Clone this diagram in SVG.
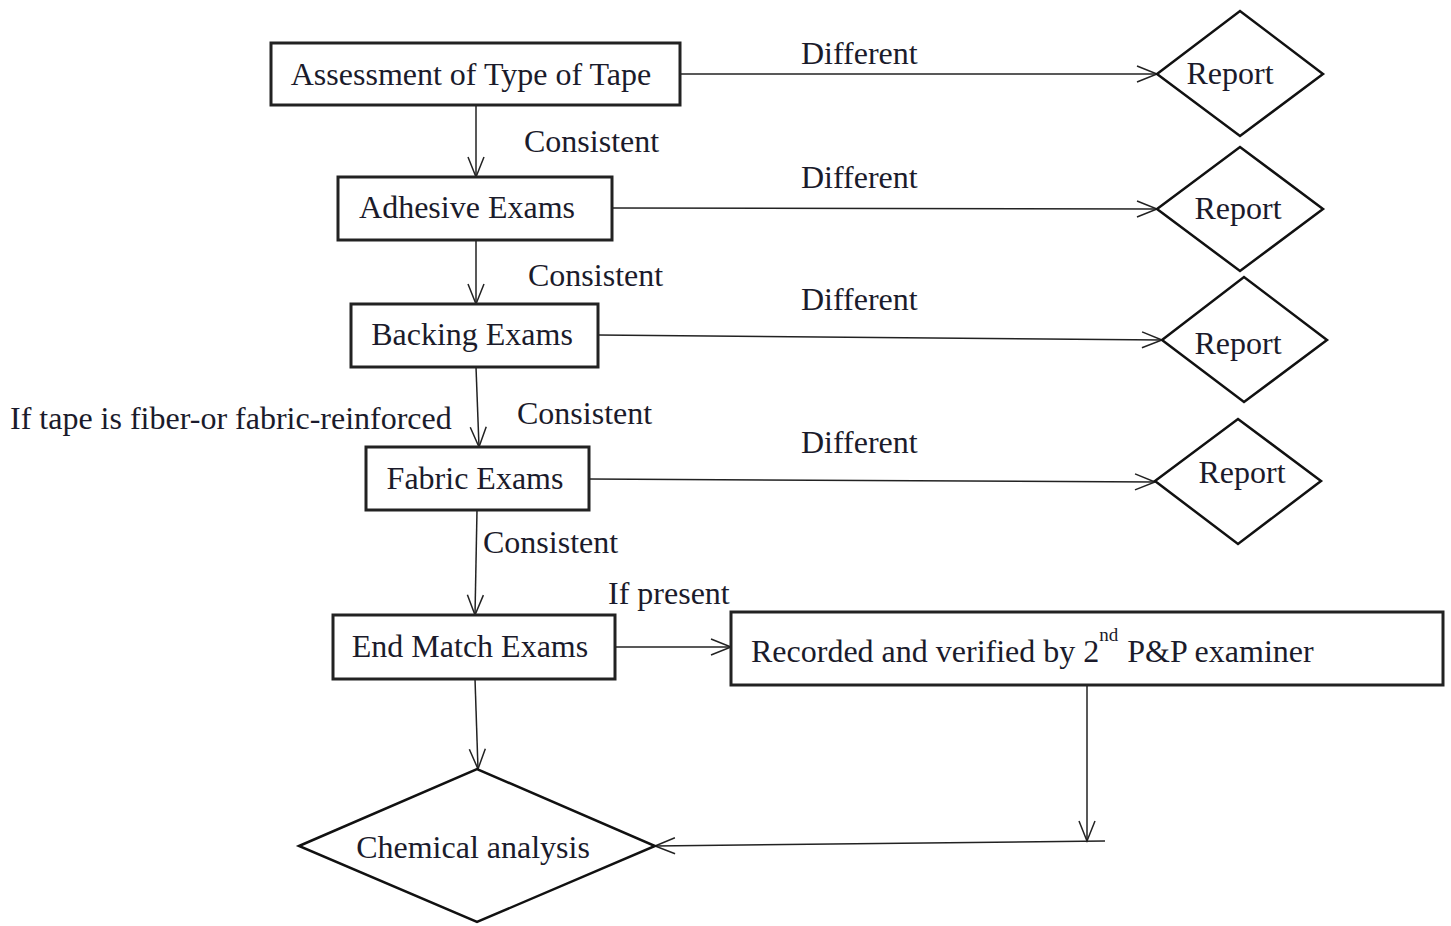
<svg xmlns="http://www.w3.org/2000/svg" width="1451" height="926" viewBox="0 0 1451 926">
<defs>
<style>
.box{fill:#fff;stroke:#222;stroke-width:3}
.dia{fill:#fff;stroke:#111;stroke-width:2.5}
.t{font-family:"Liberation Serif","Times New Roman",serif;font-size:32px;fill:#1b1b2b;text-anchor:middle}
.l{font-family:"Liberation Serif","Times New Roman",serif;font-size:32px;fill:#1b1b2b}
.c{fill:none;stroke:#222;stroke-width:1.5}
</style>
<marker id="ah" viewBox="0 0 24 20" refX="22" refY="10" markerWidth="24" markerHeight="20" markerUnits="userSpaceOnUse" orient="auto">
<polyline points="2,2 22,10 2,18" fill="none" stroke="#222" stroke-width="1.5"/>
</marker>
</defs>
<rect width="1451" height="926" fill="#fff"/>
<g id="connectors">
<line class="c" x1="680" y1="74" x2="1157" y2="74" marker-end="url(#ah)"/>
<line class="c" x1="476" y1="105" x2="476" y2="177" marker-end="url(#ah)"/>
<line class="c" x1="612" y1="208" x2="1157" y2="209" marker-end="url(#ah)"/>
<line class="c" x1="476" y1="240" x2="476" y2="304" marker-end="url(#ah)"/>
<line class="c" x1="598" y1="335" x2="1162" y2="340" marker-end="url(#ah)"/>
<line class="c" x1="476" y1="367" x2="479" y2="447" marker-end="url(#ah)"/>
<line class="c" x1="589" y1="479" x2="1155" y2="482" marker-end="url(#ah)"/>
<line class="c" x1="477" y1="510" x2="475" y2="615" marker-end="url(#ah)"/>
<line class="c" x1="615" y1="647" x2="731" y2="647" marker-end="url(#ah)"/>
<line class="c" x1="475" y1="679" x2="478" y2="769" marker-end="url(#ah)"/>
<line class="c" x1="1087" y1="685" x2="1087" y2="841" marker-end="url(#ah)"/>
<line class="c" x1="1105" y1="841" x2="655" y2="846" marker-end="url(#ah)"/>
<text class="l" x="801" y="64">Different</text>
<text class="l" x="524" y="152">Consistent</text>
<text class="l" x="801" y="188">Different</text>
<text class="l" x="528" y="286">Consistent</text>
<text class="l" x="801" y="310">Different</text>
<text class="l" x="517" y="424">Consistent</text>
<text class="l" x="10" y="429">If tape is fiber-or fabric-reinforced</text>
<text class="l" x="801" y="453">Different</text>
<text class="l" x="483" y="553">Consistent</text>
<text class="l" x="608" y="604">If present</text>
</g>
<g id="n1"><rect class="box" x="271" y="43" width="409" height="62"/><text class="t" x="471" y="85">Assessment of Type of Tape</text></g>
<g id="r1"><polygon class="dia" points="1157,74 1240,11 1323,74 1240,136"/><text class="t" x="1230" y="84">Report</text></g>
<g id="n2"><rect class="box" x="338" y="177" width="274" height="63"/><text class="t" x="467" y="218">Adhesive Exams</text></g>
<g id="r2"><polygon class="dia" points="1157,209 1240,147 1323,209 1240,271"/><text class="t" x="1238" y="219">Report</text></g>
<g id="n3"><rect class="box" x="351" y="304" width="247" height="63"/><text class="t" x="472" y="345">Backing Exams</text></g>
<g id="r3"><polygon class="dia" points="1162,340 1244,277 1327,340 1244,402"/><text class="t" x="1238" y="354">Report</text></g>
<g id="n4"><rect class="box" x="366" y="447" width="223" height="63"/><text class="t" x="475" y="489">Fabric Exams</text></g>
<g id="r4"><polygon class="dia" points="1155,481 1238,419 1321,481 1238,544"/><text class="t" x="1242" y="483">Report</text></g>
<g id="n5"><rect class="box" x="333" y="615" width="282" height="64"/><text class="t" x="470" y="657">End Match Exams</text></g>
<g id="n6"><rect class="box" x="731" y="612" width="712" height="73"/><text class="l" x="751" y="662">Recorded and verified by 2<tspan font-size="19" dy="-21">nd</tspan><tspan dy="21" dx="9">P&amp;P examiner</tspan></text></g>
<g id="n7"><polygon class="dia" points="299,846 477,769 655,846 477,922"/><text class="t" x="473" y="858">Chemical analysis</text></g>
</svg>
